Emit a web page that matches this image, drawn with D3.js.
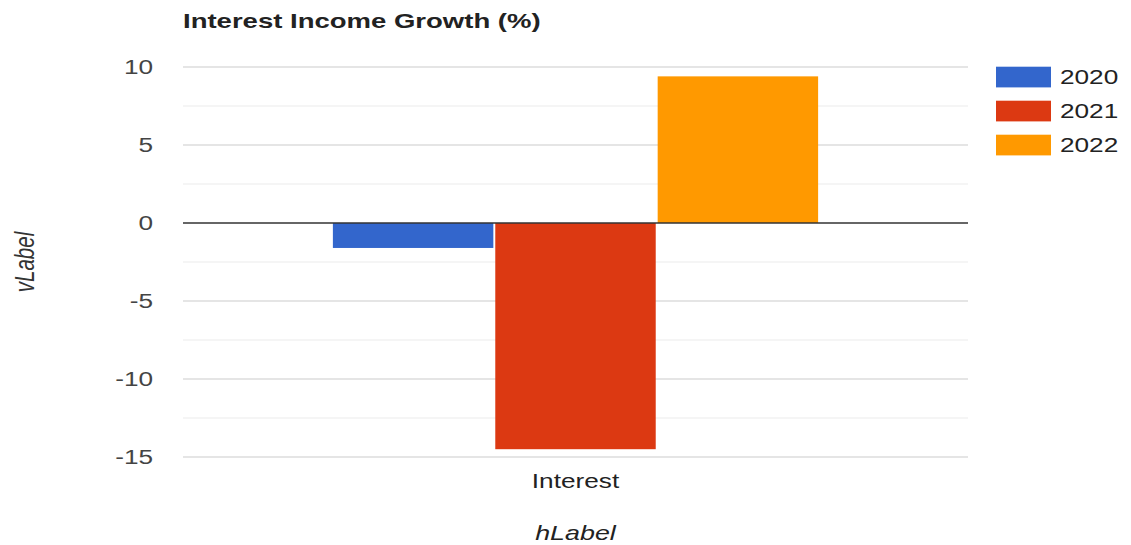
<!DOCTYPE html>
<html>
<head>
<meta charset="utf-8">
<script src="https://cdn.jsdelivr.net/npm/d3@7"></script>
<style>
  html, body { margin: 0; padding: 0; background: #fff; }
  svg { display: block; }
  text { font-family: "Liberation Sans", Arial, sans-serif; }
</style>
</head>
<body>
<div id="chart"></div>
<script>
// Chart data
const categories = ["Interest"];
const seriesNames = ["2020", "2021", "2022"];
const seriesValues = [[-1.6], [-14.5], [9.4]];   // one value per category, per series
const seriesColors = ["#3366cc", "#dc3912", "#ff9900"];
const yTicks = [-15, -10, -5, 0, 5, 10];
const yMinorTicks = [-12.5, -7.5, -2.5, 2.5, 7.5];
const titleText = "Interest Income Growth (%)";
const hAxisTitle = "hLabel";
const vAxisTitle = "vLabel";

// Page size; the drawing is laid out in a narrower coordinate space and stretched horizontally.
const W = 1131, H = 545, SX = 1.31;
const VW = W / SX;
const px = v => v / SX;   // page x -> drawing x

const svg = d3.select("#chart").append("svg")
  .attr("width", W).attr("height", H)
  .attr("viewBox", `0 0 ${VW} ${H}`)
  .attr("preserveAspectRatio", "none");

const plot = { left: px(183), right: px(968), top: 67, bottom: 457 };

const y = d3.scaleLinear().domain([-15, 10]).range([plot.bottom, plot.top]);
const x0 = d3.scaleBand().domain(categories).range([plot.left, plot.right])
  .paddingInner(0.236).paddingOuter(0.236);
const x1 = d3.scaleBand().domain(seriesNames).range([0, x0.bandwidth()]).paddingInner(0.012);

// Gridlines
const g = svg.append("g");
g.selectAll("line.minor").data(yMinorTicks).join("line")
  .attr("x1", plot.left).attr("x2", plot.right)
  .attr("y1", d => y(d)).attr("y2", d => y(d))
  .attr("stroke", "#ebebeb").attr("stroke-width", 1);
g.selectAll("line.major").data(yTicks.filter(d => d !== 0)).join("line")
  .attr("x1", plot.left).attr("x2", plot.right)
  .attr("y1", d => y(d)).attr("y2", d => y(d))
  .attr("stroke", "#cccccc").attr("stroke-width", 1);

// Bars
const groups = svg.append("g").selectAll("g").data(categories).join("g")
  .attr("transform", d => `translate(${x0(d)},0)`);
groups.selectAll("rect")
  .data((c, ci) => seriesNames.map((s, si) => ({ s, v: seriesValues[si][ci], color: seriesColors[si] })))
  .join("rect")
  .attr("x", d => x1(d.s))
  .attr("width", x1.bandwidth())
  .attr("y", d => y(Math.max(0, d.v)))
  .attr("height", d => Math.abs(y(d.v) - y(0)))
  .attr("fill", d => d.color);

// Baseline at zero
svg.append("line")
  .attr("x1", plot.left).attr("x2", plot.right)
  .attr("y1", y(0)).attr("y2", y(0))
  .attr("stroke", "#333").attr("stroke-width", 1.4);

// Vertical axis labels (plain hyphen for negatives)
const yAxis = d3.axisLeft(y).tickValues(yTicks).tickSize(0).tickPadding(px(30))
  .tickFormat(d => String(d));
const ya = svg.append("g").attr("transform", `translate(${plot.left},0)`).call(yAxis);
ya.select(".domain").remove();
ya.selectAll("text").attr("font-size", 20).attr("fill", "#444")
  .attr("font-family", "'Liberation Sans', Arial, sans-serif");

// Horizontal axis labels
const xAxis = d3.axisBottom(x0).tickSize(0).tickPadding(0);
const xa = svg.append("g").attr("transform", `translate(0,${plot.bottom})`).call(xAxis);
xa.select(".domain").remove();
xa.selectAll("text").attr("font-size", 20).attr("fill", "#222")
  .attr("dy", null).attr("y", 31)
  .attr("font-family", "'Liberation Sans', Arial, sans-serif");

// Title
svg.append("text").attr("x", px(183)).attr("y", 28)
  .attr("font-size", 21).attr("font-weight", "bold").attr("fill", "#222")
  .text(titleText);

// Axis titles
svg.append("text").attr("x", (plot.left + plot.right) / 2).attr("y", 540)
  .attr("text-anchor", "middle").attr("font-size", 20.5).attr("font-style", "italic")
  .attr("fill", "#222").text(hAxisTitle);
svg.append("text")
  .attr("transform", `translate(${px(34)},${(plot.top + plot.bottom) / 2}) rotate(-90)`)
  .attr("text-anchor", "middle").attr("font-size", 20.5).attr("font-style", "italic")
  .attr("fill", "#333").text(vAxisTitle);

// Legend
const legend = svg.append("g").attr("transform", `translate(${px(996)},66.7)`);
const item = legend.selectAll("g").data(seriesNames).join("g")
  .attr("transform", (d, i) => `translate(0,${i * 34})`);
item.append("rect").attr("width", px(55)).attr("height", 20.7)
  .attr("fill", (d, i) => seriesColors[i]);
item.append("text").attr("x", px(64)).attr("y", 10.5).attr("dy", "0.35em")
  .attr("font-size", 20).attr("fill", "#222").text(d => d);
</script>
</body>
</html>
